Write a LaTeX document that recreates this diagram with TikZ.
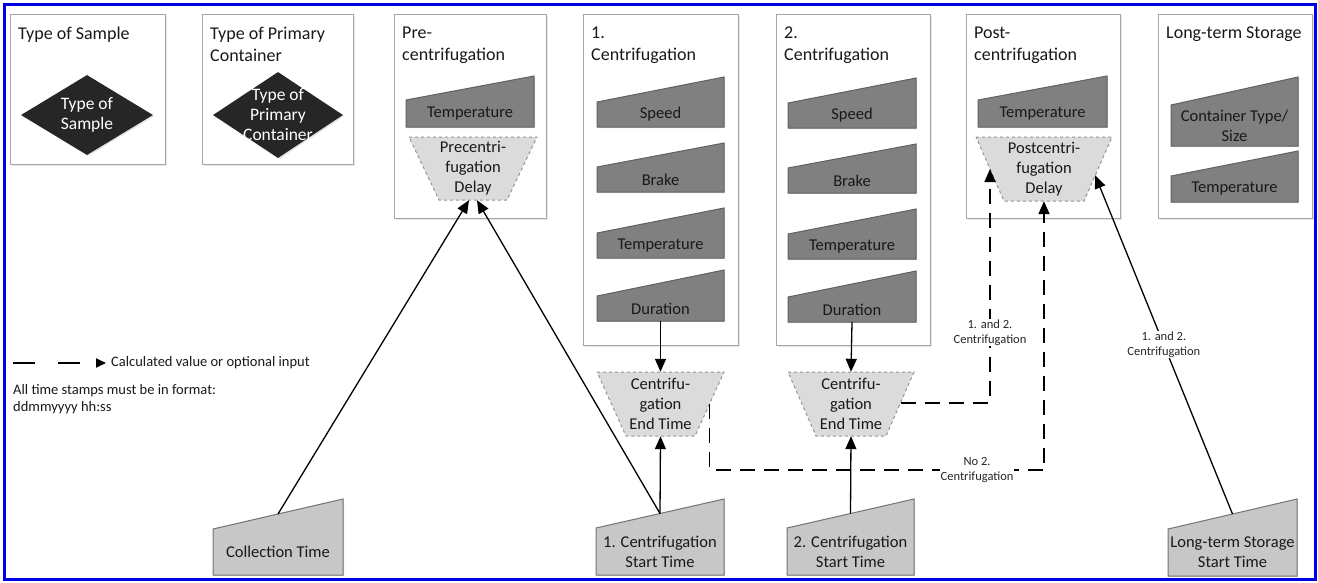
\documentclass[tikz,border=0pt]{standalone}
\usepackage{fontspec}
\setmainfont{Carlito}
\usetikzlibrary{calc, arrows.meta, shapes.geometric, shadows}

\tikzset{
  blueframe/.style={draw=blue!90!black, line width=3pt},
  panel/.style={draw=black!35, line width=1.4pt, fill=white, anchor=north west, inner sep=0pt,
    drop shadow={shadow xshift=1.5pt, shadow yshift=-1.5pt, opacity=0.2}},
  paneltitle/.style={font=\fontsize{18}{22}\selectfont, align=left, inner sep=0pt, anchor=north west, text=black!90},
  intext/.style={font=\fontsize{16.5}{20}\selectfont, align=center, inner sep=0pt, text=black!90},
  darkin/.style={draw=black!62, line width=1pt, fill=black!50,
    drop shadow={shadow xshift=1.2pt, shadow yshift=-1.2pt, opacity=0.25}},
  lightin/.style={draw=black!55, line width=1pt, fill=black!22,
    drop shadow={shadow xshift=1.2pt, shadow yshift=-1.2pt, opacity=0.25}},
  delay/.style={draw=black!42, dashed, line width=1pt, fill=black!14},
  gem/.style={diamond, fill=black!85, inner sep=0pt,
    drop shadow={shadow xshift=1.2pt, shadow yshift=-1.2pt, opacity=0.2}},
  gemtext/.style={text=white, align=center, inner sep=0pt, font=\fontsize{17.5}{20}\selectfont},
  arr/.style={line width=1.3pt, -{Triangle[length=13pt, width=11pt]}},
  darr/.style={line width=1.8pt, dash pattern=on 15pt off 9pt, -{Triangle[length=13pt, width=11pt]}},
  lbl/.style={font=\fontsize{12.5}{14.5}\selectfont, align=center, fill=white, inner sep=1pt, text=black!85},
  note/.style={font=\fontsize{14.5}{17}\selectfont, align=left, inner sep=0pt, text=black!90}
}

% manual input: style, name, left, right, top left, top right, bottom, text
\newcommand{\inshape}[8]{%
  \draw[#1] (#3,#7) -- (#4,#7) -- (#4,#6) -- (#3,#5) -- cycle;
  \coordinate (#2-top) at ({(#3+#4)/2},{(#5+#6)/2});
  \node[intext, minimum width={(#4-#3)*1pt}, minimum height={(#7-#5)*1pt}] (#2) at ({(#3+#4)/2},{(#5+#7)/2}) {#8};
}
% manual operation: name, left, right, inset, top, bottom, text
\newcommand{\opshape}[7]{%
  \draw[delay] (#2,#5) -- (#3,#5) -- (#3-#4,#6) -- (#2+#4,#6) -- cycle;
  \coordinate (#1-nw) at (#2,#5);
  \coordinate (#1-ne) at (#3,#5);
  \coordinate (#1-se) at (#3-#4,#6);
  \coordinate (#1-sw) at (#2+#4,#6);
  \node[intext, minimum width={(#3-#2)*1pt}, minimum height={(#6-#5)*1pt}] (#1) at ({(#2+#3)/2},{(#5+#6)/2}) {#7};
}

\begin{document}
\begin{tikzpicture}[x=1pt, y=-1pt]
\useasboundingbox (0,0) rectangle (1318,582);
\draw[blueframe] (4.5,4.5) rectangle (1315.5,579.5);

% panels
\node[panel, minimum width=155pt, minimum height=150pt] (psample) at (10,14) {};
\node[panel, minimum width=151pt, minimum height=150pt] (pcont) at (202,14) {};
\node[panel, minimum width=152pt, minimum height=204pt] (ppre) at (394,14) {};
\node[panel, minimum width=155pt, minimum height=331pt] (pcf1) at (583,14) {};
\node[panel, minimum width=154pt, minimum height=331pt] (pcf2) at (776,14) {};
\node[panel, minimum width=154pt, minimum height=204pt] (ppost) at (966,14) {};
\node[panel, minimum width=154pt, minimum height=204pt] (plts) at (1158,14) {};

\node[paneltitle] (tsample) at ([xshift=8pt, yshift=-13pt]psample.north west) {Type of Sample};
\node[paneltitle] (tcont) at ([xshift=8pt, yshift=-13pt]pcont.north west) {Type of Primary\\Container};
\node[paneltitle] (tpre) at ([xshift=8pt, yshift=-13pt]ppre.north west) {Pre-\\centrifugation};
\node[paneltitle] (tcf1) at ([xshift=8pt, yshift=-13pt]pcf1.north west) {1.\\Centrifugation};
\node[paneltitle] (tcf2) at ([xshift=8pt, yshift=-13pt]pcf2.north west) {2.\\Centrifugation};
\node[paneltitle] (tpost) at ([xshift=8pt, yshift=-13pt]ppost.north west) {Post-\\centrifugation};
\node[paneltitle] (tlts) at ([xshift=8pt, yshift=-13pt]plts.north west) {Long-term Storage};

% diamonds
\node[gem, minimum width=132pt, minimum height=80pt, label={[gemtext]center:Type of\\Sample}] (dsample) at (87,115) {};
\node[gem, minimum width=130pt, minimum height=86pt, label={[gemtext]center:Type of\\Primary\\Container}] (dcont) at (278,115) {};

% inputs in the panels
\inshape{darkin}{pretemp}{406}{534}{100}{76}{127}{Temperature}
\opshape{predelay}{409}{537}{30}{137}{200}{Precentri-\\fugation\\Delay}

\inshape{darkin}{speed1}{597}{724}{102}{77}{127}{Speed}
\inshape{darkin}{brake1}{597}{724}{167}{143}{192}{Brake}
\inshape{darkin}{temp1}{597}{724}{233}{208}{258}{Temperature}
\inshape{darkin}{dur1}{597}{724}{296}{270}{321}{Duration}

\inshape{darkin}{speed2}{788}{916}{103}{78}{128}{Speed}
\inshape{darkin}{brake2}{788}{916}{168}{144}{193}{Brake}
\inshape{darkin}{temp2}{788}{916}{234}{209}{259}{Temperature}
\inshape{darkin}{dur2}{788}{916}{297}{271}{322}{Duration}

\inshape{darkin}{posttemp}{978}{1107}{100}{76}{127}{Temperature}
\opshape{postdelay}{976}{1112}{28}{137}{201}{Postcentri-\\fugation\\Delay}

\inshape{darkin}{ltcont}{1171}{1298}{105}{77}{146}{Container Type/\\Size}
\inshape{darkin}{lttemp}{1171}{1298}{176}{151}{202}{Temperature}

% end times
\opshape{end1}{597}{724}{29}{372}{436}{Centrifu-\\gation\\End Time}
\opshape{end2}{788}{914}{28}{372}{436}{Centrifu-\\gation\\End Time}

% time stamps
\inshape{lightin}{coll}{213}{343}{529}{499}{575}{Collection Time}
\inshape{lightin}{st1}{596}{724}{528}{499}{575}{1. Centrifugation\\Start Time}
\inshape{lightin}{st2}{787}{914}{528}{499}{575}{2. Centrifugation\\Start Time}
\inshape{lightin}{ltst}{1168}{1297}{529}{499}{576}{Long-term Storage\\Start Time}

% legend
\coordinate (lg0) at (13,363);
\node[note, anchor=west, inner sep=5pt] (lgtext) at (106,363) {Calculated value or optional input};
\draw[line width=1.8pt, dash pattern=on 22pt off 23pt, -{Triangle[length=10pt, width=9pt]}] (lg0) -- (lgtext.west);
\node[note, anchor=north west] (fmt) at (13,384) {All time stamps must be in format:\\ddmmyyyy hh:ss};

% connectors
\draw[arr] (dur1.south) -- (end1.north);
\draw[arr] (dur2.south) -- (end2.north);
\draw[arr] (st1-top) -- (end1.south);
\draw[arr] (st2-top) -- (end2.south);
\draw[arr] (coll-top) -- ([xshift=-4pt]predelay.south);
\draw[arr] (st1-top) -- ([xshift=4pt]predelay.south);
\draw[arr] (ltst-top) -- node[lbl, pos=0.5] {1. and 2.\\Centrifugation} ($(postdelay-ne)!0.6!(postdelay-se)$);
\draw[darr] ($(end2-ne)!0.48!(end2-se)$) -| node[lbl, pos=0.65] {1. and 2.\\Centrifugation} ($(postdelay-nw)!0.5!(postdelay-sw)$);
\draw[darr] ($(end1-ne)!0.5!(end1-se)$) -- ++(0,66) -| node[lbl, pos=0.4] {No 2.\\Centrifugation} (postdelay.south);
\end{tikzpicture}
\end{document}
